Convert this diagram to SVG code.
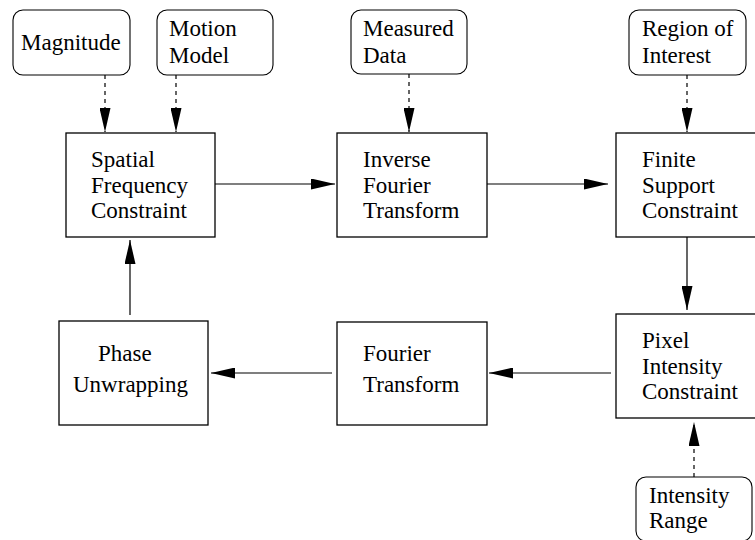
<svg xmlns="http://www.w3.org/2000/svg" width="755" height="540" viewBox="0 0 755 540">
<style>
  .box{fill:#fff;stroke:#000;stroke-width:1.3}
  .src{fill:#fff;stroke:#000;stroke-width:1.1}
  text{font-family:"Liberation Serif","Times New Roman",Tinos,"DejaVu Serif",serif;font-size:23px;fill:#000}
  .solid{stroke:#000;stroke-width:1.2;fill:none}
  .dash{stroke:#000;stroke-width:1.2;fill:none;stroke-dasharray:4 4}
</style>
<defs>
  <marker id="ah" viewBox="0 0 24 11" refX="24" refY="5.5" markerWidth="24" markerHeight="11" markerUnits="userSpaceOnUse" orient="auto">
    <path d="M0,0 L24,5.5 L0,11 Z" fill="#000"/>
  </marker>
</defs>
<rect width="755" height="540" fill="#fff"/>

<g id="magnitude">
  <rect class="src" x="13" y="10" width="117" height="65" rx="10"/>
  <text x="21" y="50">Magnitude</text>
</g>
<g id="motion-model">
  <rect class="src" x="157" y="10" width="116" height="65" rx="10"/>
  <text x="169" y="36">Motion</text>
  <text x="169" y="63">Model</text>
</g>
<g id="measured-data">
  <rect class="src" x="351" y="10" width="116" height="64" rx="10"/>
  <text x="363" y="36">Measured</text>
  <text x="363" y="63">Data</text>
</g>
<g id="region-of-interest">
  <rect class="src" x="629" y="10" width="117" height="65" rx="10"/>
  <text x="642" y="36">Region of</text>
  <text x="642" y="63">Interest</text>
</g>

<g id="spatial-frequency-constraint">
  <rect class="box" x="66" y="133" width="149" height="104"/>
  <text x="91" y="167">Spatial</text>
  <text x="91" y="193">Frequency</text>
  <text x="91" y="218">Constraint</text>
</g>
<g id="inverse-fourier-transform">
  <rect class="box" x="337" y="133" width="150" height="104"/>
  <text x="363" y="167">Inverse</text>
  <text x="363" y="193">Fourier</text>
  <text x="363" y="218">Transform</text>
</g>
<g id="finite-support-constraint">
  <rect class="box" x="616" y="133" width="150" height="104"/>
  <text x="642" y="167">Finite</text>
  <text x="642" y="193">Support</text>
  <text x="642" y="218">Constraint</text>
</g>

<g id="phase-unwrapping">
  <rect class="box" x="59" y="321" width="149" height="104"/>
  <text x="98" y="361">Phase</text>
  <text x="73" y="392">Unwrapping</text>
</g>
<g id="fourier-transform">
  <rect class="box" x="337" y="322" width="150" height="103"/>
  <text x="363" y="361">Fourier</text>
  <text x="363" y="392">Transform</text>
</g>
<g id="pixel-intensity-constraint">
  <rect class="box" x="616" y="314" width="150" height="104"/>
  <text x="642" y="348">Pixel</text>
  <text x="642" y="374">Intensity</text>
  <text x="642" y="399">Constraint</text>
</g>
<g id="intensity-range">
  <rect class="src" x="636" y="477" width="116" height="64" rx="10"/>
  <text x="649" y="503">Intensity</text>
  <text x="649" y="528">Range</text>
</g>

<g id="connectors">
  <line class="dash" x1="105" y1="75" x2="105" y2="132" marker-end="url(#ah)"/>
  <line class="dash" x1="176" y1="75" x2="176" y2="132" marker-end="url(#ah)"/>
  <line class="dash" x1="409" y1="74" x2="409" y2="132" marker-end="url(#ah)"/>
  <line class="dash" x1="687" y1="75" x2="687" y2="132" marker-end="url(#ah)"/>
  <line class="solid" x1="215" y1="184" x2="335" y2="184" marker-end="url(#ah)"/>
  <line class="solid" x1="487" y1="184" x2="608" y2="184" marker-end="url(#ah)"/>
  <line class="solid" x1="687" y1="237" x2="687" y2="310" marker-end="url(#ah)"/>
  <line class="solid" x1="611" y1="373" x2="489" y2="373" marker-end="url(#ah)"/>
  <line class="solid" x1="332" y1="373" x2="211" y2="373" marker-end="url(#ah)"/>
  <line class="solid" x1="130" y1="315" x2="130" y2="240" marker-end="url(#ah)"/>
  <line class="dash" x1="694" y1="477" x2="694" y2="422" marker-end="url(#ah)"/>
</g>
</svg>
